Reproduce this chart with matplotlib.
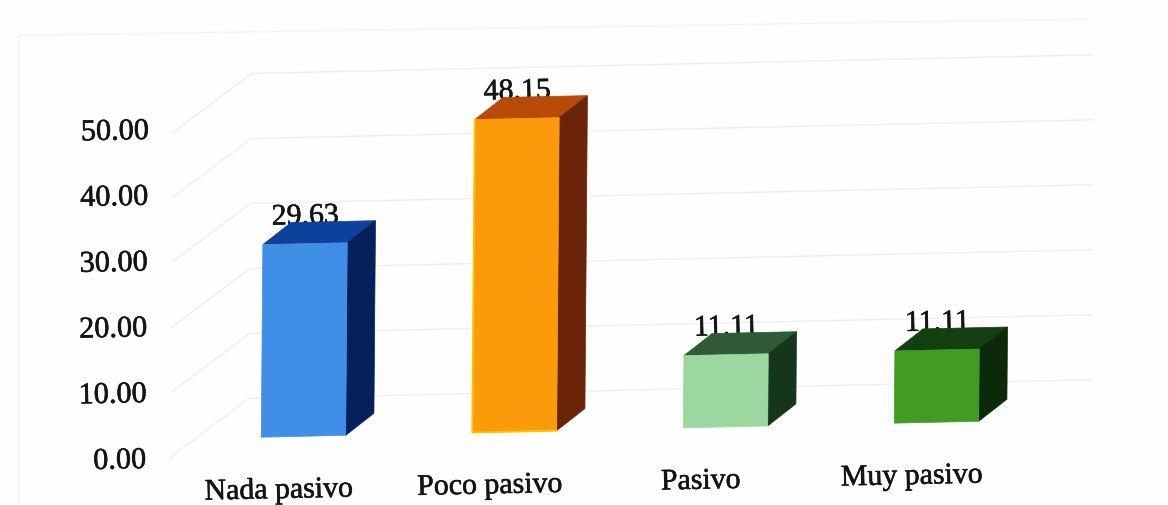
import matplotlib
matplotlib.use("Agg")
import matplotlib.pyplot as plt
import matplotlib.patheffects as pe
from matplotlib.lines import Line2D
from matplotlib.patches import Polygon
from matplotlib.transforms import Affine2D

# data
categories = ["Nada pasivo", "Poco pasivo", "Pasivo", "Muy pasivo"]
values = [29.63, 48.15, 11.11, 11.11]
y_ticks = [0, 10, 20, 30, 40, 50]

front_colors = ["#3f8fe6", "#fb9a0a", "#9ad8a0", "#429c24"]
top_colors = ["#0d419c", "#b64a06", "#2e5b36", "#143f10"]
side_colors = ["#05205a", "#6c2408", "#16361b", "#0a2a0a"]

# px per category / per value unit
X_SCALE = 211
Y_SCALE = 6.5
BAR_W = 0.40
DEPTH_X = 0.133
DEPTH_Y = 3.3
TEXT_COLOR = "#141414"

fig = plt.figure(figsize=(11.68, 5.05), dpi=100, facecolor="#fefefe")
plt.rcParams["font.family"] = ["Liberation Serif", "DejaVu Serif"]
ax = fig.add_axes([0, 0, 1, 1])
ax.set_xlim(-303 / X_SCALE, (1168 - 303) / X_SCALE)
ax.set_ylim(-62 / Y_SCALE, (505 - 62) / Y_SCALE)
ax.axis("off")

# the page was photographed slightly tilted
tilt = ax.transData + Affine2D.from_values(1, 0.0222, 0.008, 1, 0, 0)
heavy = [pe.withStroke(linewidth=0.4, foreground=TEXT_COLOR)]


def poly(points, color, z):
    ax.add_patch(Polygon(points, closed=True, facecolor=color, edgecolor=color,
                         linewidth=0.5, transform=tilt, zorder=z))


def label(x, y, s, size, ha, z):
    ax.text(x, y, s, ha=ha, va="center", fontsize=size, color=TEXT_COLOR,
            rotation=1.2, transform=tilt, zorder=z, path_effects=heavy)


# faint outer frame of the chart
fig.add_artist(Line2D([0.016, 0.016], [0.0, 0.93], color="#f6f6f6", lw=1.2))
fig.add_artist(Line2D([0.016, 0.935], [0.93, 0.962], color="#f6f6f6", lw=1.2))

# gridlines: side wall then back wall
for t in y_ticks:
    wall_x = [-0.63, -0.26, 3.73]
    wall_y = [t - 2.8, t + 6.0, t + 6.0]
    ax.plot(wall_x, wall_y, color="#efefef", lw=1.0, transform=tilt, zorder=1)

for i, v in enumerate(values):
    x0 = i - BAR_W / 2
    x1 = i + BAR_W / 2
    label(i, v + 4.1, f"{v:.2f}", 21.5, "center", 2)
    poly([(x0, 0), (x1, 0), (x1, v), (x0, v)], front_colors[i], 4)
    poly([(x0, v), (x1, v), (x1 + DEPTH_X, v + DEPTH_Y), (x0 + DEPTH_X, v + DEPTH_Y)],
         top_colors[i], 3)
    poly([(x1, 0), (x1 + DEPTH_X, DEPTH_Y), (x1 + DEPTH_X, v + DEPTH_Y), (x1, v)],
         side_colors[i], 3)
    label(i - 0.115, -8.35, categories[i], 21.5, "center", 5)

# yellow rim on the orange bar
ax.plot([1 - BAR_W / 2, 1 - BAR_W / 2, 1 + BAR_W / 2], [values[1], 0, 0],
        color="#f4c800", lw=1.4, transform=tilt, zorder=5)

for t in y_ticks:
    label(-0.745, t * 1.012 - 3.35, f"{t:.2f}", 21.8, "right", 5)

fig.savefig("out.png", dpi=100, facecolor=fig.get_facecolor())
